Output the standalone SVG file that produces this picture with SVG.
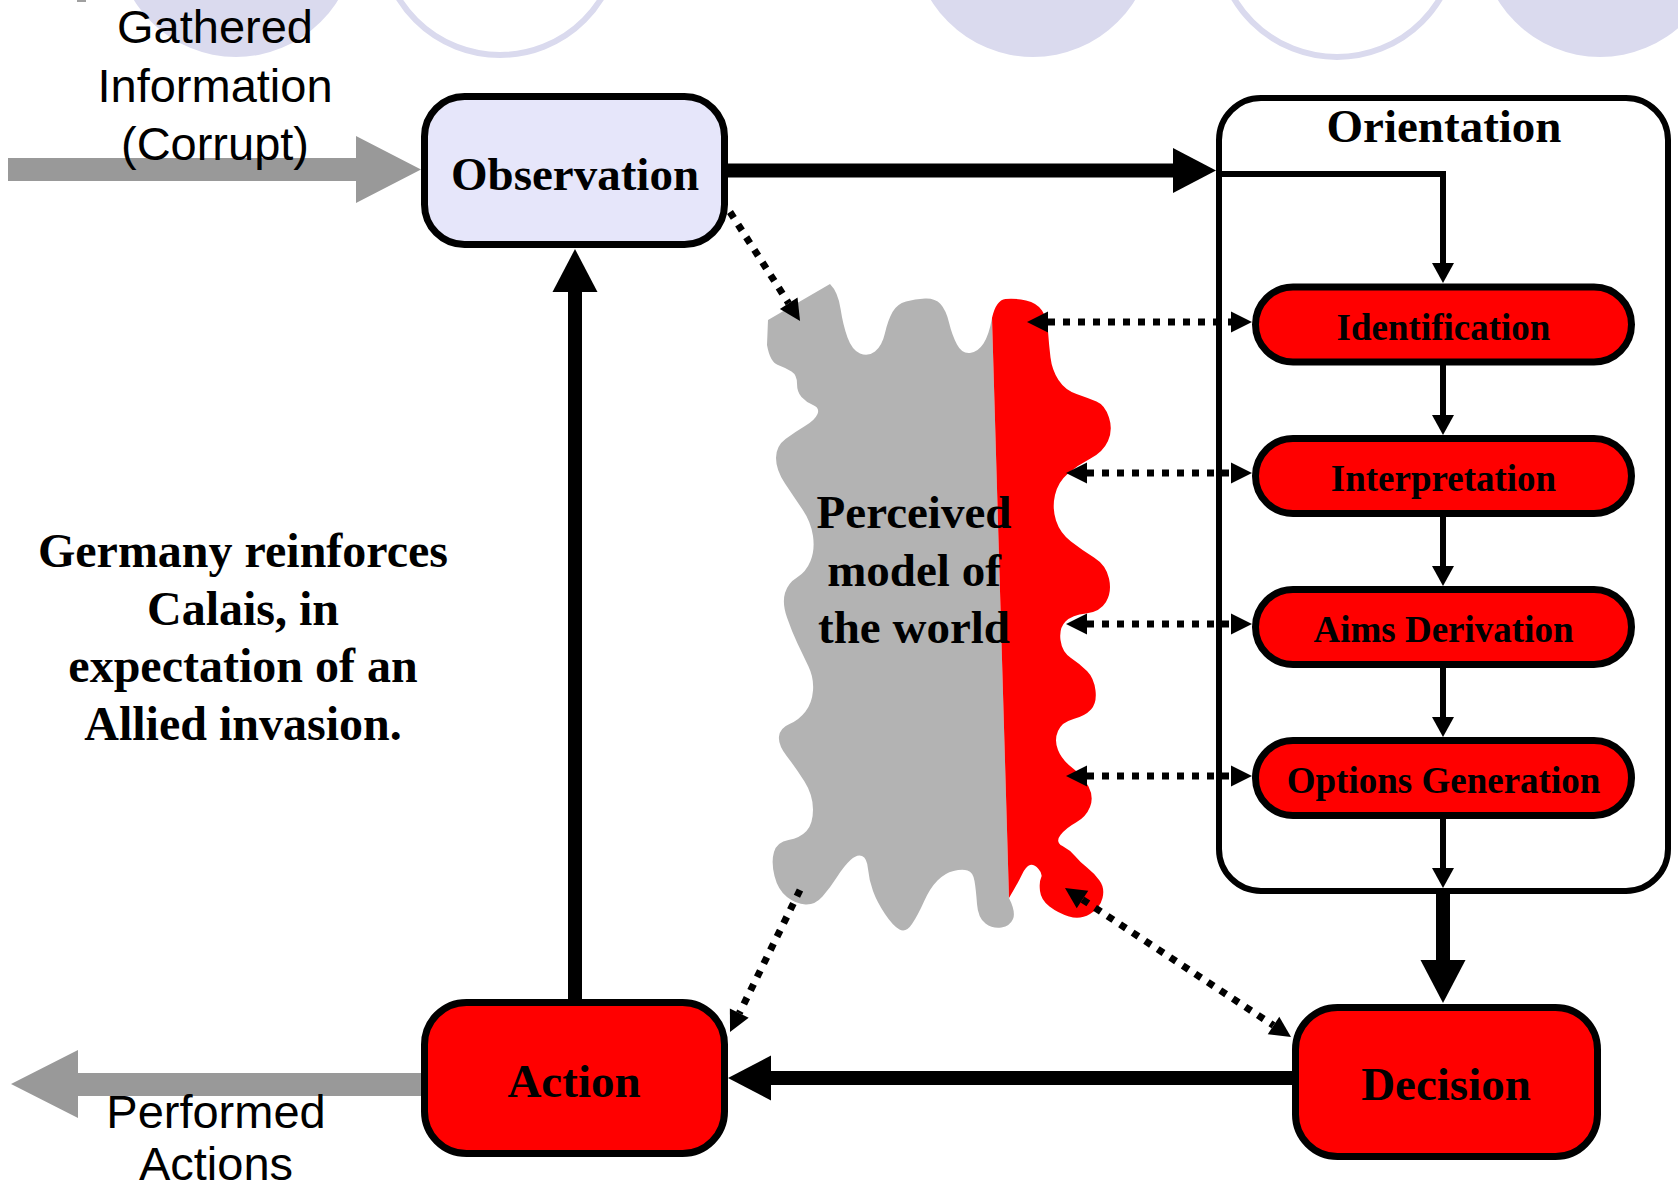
<svg xmlns="http://www.w3.org/2000/svg" width="1678" height="1192" viewBox="0 0 1678 1192">
  <defs>
    <style>
      .bg-disc { fill: #DADAEE; }
      .bg-ring { fill: none; stroke: #DADAEE; stroke-width: 6; }
      .box { stroke: #000; stroke-width: 7; }
      .obs { fill: #E6E6FA; }
      .red { fill: #FF0000; }
      .frame { fill: none; stroke: #000; stroke-width: 6; }
      .serif-b { font-family: "Liberation Serif", "Times New Roman", serif; font-weight: bold; fill: #000; text-anchor: middle; }
      .big { font-size: 47px; }
      .note { font-size: 48px; }
      .pill-label { font-size: 37px; }
      .sans { font-family: "Liberation Sans", Arial, sans-serif; font-size: 47px; fill: #000; text-anchor: middle; }
      .thick { stroke: #000; stroke-width: 14; fill: none; }
      .thin { stroke: #000; stroke-width: 6; fill: none; }
      .dotted { stroke: #000; stroke-width: 7; stroke-dasharray: 7 8; fill: none; }
      .io { fill: #999999; }
      .grey-part { fill: #B3B3B3; }
    </style>
    <marker id="headBig" markerUnits="userSpaceOnUse" markerWidth="44" markerHeight="46" refX="0" refY="22.5" orient="auto" overflow="visible">
      <path d="M0,0 L43,22.5 L0,45 z" fill="#000"/>
    </marker>
    <marker id="headSmall" markerUnits="userSpaceOnUse" markerWidth="21" markerHeight="23" refX="0" refY="11" orient="auto" overflow="visible">
      <path d="M0,0 L20,11 L0,22 z" fill="#000"/>
    </marker>
    <marker id="headDot" markerUnits="userSpaceOnUse" markerWidth="22" markerHeight="22" refX="0" refY="10.5" orient="auto-start-reverse" overflow="visible">
      <path d="M0,0 L21,10.5 L0,21 z" fill="#000"/>
    </marker>
  </defs>

  <rect width="1678" height="1192" fill="#FFFFFF"/>

  <!-- decorative discs and rings along the top edge -->
  <g id="backdrop">
    <circle class="bg-disc" cx="236" cy="-63" r="120"/>
    <circle class="bg-ring" cx="500" cy="-64" r="119"/>
    <circle class="bg-disc" cx="1033" cy="-63" r="120"/>
    <circle class="bg-ring" cx="1337" cy="-63" r="120"/>
    <circle class="bg-disc" cx="1600" cy="-63" r="120"/>
    <rect x="77" y="0" width="9" height="2" fill="#A0A0A0"/>
  </g>

  <!-- perceived model of the world: grey part with a red (corrupted) right side -->
  <g id="node-world-model">
    <path class="grey-part" d="M992,318 L1009,898 Q1016,912 1013,919 Q1010,926 1001.5,927.5 Q993,929 985.5,923.5 Q978,918 977,904 Q976,890 974.5,881 Q973,872 967.5,870.5 Q962,869 953.5,871 Q945,873 937.5,880.5 Q930,888 924,901.5 Q918,915 912,924 Q906,933 899.5,929.5 Q893,926 885,914 Q877,902 873,891 Q869,880 868,869 Q867,858 862,856 Q857,854 850.5,860 Q844,866 837,877 Q830,888 822.5,896.5 Q815,905 805.5,904.5 Q796,904 787,897 Q778,890 774.5,876 Q771,862 774,852 Q777,842 788.5,840 Q800,838 806.5,831 Q813,824 813,809.5 Q813,795 804.5,781.5 Q796,768 787,756.5 Q778,745 779,736.5 Q780,728 789.5,724 Q799,720 805.5,711.5 Q812,703 813,690.5 Q814,678 808.5,666.5 Q803,655 797.5,643.5 Q792,632 787,617.5 Q782,603 785,593 Q788,583 797,577.5 Q806,572 810.5,561 Q815,550 813,536 Q811,522 802.5,509.5 Q794,497 785,483.5 Q776,470 776,458 Q776,446 785.5,439 Q795,432 805,426 Q815,420 817.5,414 Q820,408 813,405 Q806,402 801.5,397 Q797,392 797,383.5 Q797,375 791.5,371.5 Q786,368 778,365 Q770,362 767,345 L768,320 L830,284 Q838,292 840.5,308.5 Q843,325 847.5,337.5 Q852,350 860,353.5 Q868,357 875,351.5 Q882,346 885,333 Q888,320 892.5,312 Q897,304 906,301.5 Q915,299 925,298.5 Q935,298 940.5,304 Q946,310 949,322.5 Q952,335 957,344.5 Q962,354 970,353 Q978,352 983.5,343.5 Q989,335 992,318 Z"/>
    <path class="red" d="M992,318 Q996,300 1005.5,299 Q1015,298 1026,300.5 Q1037,303 1042,310.5 Q1047,318 1048,331.5 Q1049,345 1050.5,357.5 Q1052,370 1058.5,380 Q1065,390 1076.5,394 Q1088,398 1096.5,401.5 Q1105,405 1109,417.5 Q1113,430 1108,441 Q1103,452 1090.5,458.5 Q1078,465 1068,473.5 Q1058,482 1055,495 Q1052,508 1056,520.5 Q1060,533 1071,541.5 Q1082,550 1094,557.5 Q1106,565 1109,578.5 Q1112,592 1106,602 Q1100,612 1086,613.5 Q1072,615 1065.5,621.5 Q1059,628 1060.5,640 Q1062,652 1071,658 Q1080,664 1087,671 Q1094,678 1095.5,690.5 Q1097,703 1091,709.5 Q1085,716 1073.5,719 Q1062,722 1058,731 Q1054,740 1058,750 Q1062,760 1072.5,768 Q1083,776 1088.5,786.5 Q1094,797 1090,807 Q1086,817 1076,822.5 Q1066,828 1060.5,835 Q1055,842 1062.5,846 Q1070,850 1075,856 Q1080,862 1087,867.5 Q1094,873 1099.5,880.5 Q1105,888 1102.5,898 Q1100,908 1090,914 Q1080,920 1069,916.5 Q1058,913 1049.5,906.5 Q1041,900 1040,891 Q1039,882 1041,878 Q1043,874 1038.5,869 Q1034,864 1030,865 Q1026,866 1022,874.5 Q1018,883 1009,898 Z"/>
    <text class="serif-b big" x="914" y="528">Perceived</text>
    <text class="serif-b big" x="914" y="586">model of</text>
    <text class="serif-b big" x="914" y="643">the world</text>
  </g>

  <!-- information flowing in and out -->
  <g id="io-arrows">
    <polygon class="io" points="8,158 356,158 356,136 421,169.5 356,203 356,181 8,181"/>
    <polygon class="io" points="421,1073 78,1073 78,1050 11,1084 78,1118 78,1096 421,1096"/>
  </g>

  <g id="connectors">
    <!-- main loop -->
    <line class="thick" x1="728" y1="170.5" x2="1173" y2="170.5" marker-end="url(#headBig)"/>
    <line class="thick" x1="1443" y1="894" x2="1443" y2="960" marker-end="url(#headBig)"/>
    <line class="thick" x1="1292" y1="1078" x2="771" y2="1078" marker-end="url(#headBig)"/>
    <line class="thick" x1="575" y1="1000" x2="575" y2="292" marker-end="url(#headBig)"/>
    <!-- orientation chain -->
    <path class="thin" d="M1222,174 H1443 V263" marker-end="url(#headSmall)"/>
    <line class="thin" x1="1443" y1="365" x2="1443" y2="415" marker-end="url(#headSmall)"/>
    <line class="thin" x1="1443" y1="517" x2="1443" y2="566" marker-end="url(#headSmall)"/>
    <line class="thin" x1="1443" y1="668" x2="1443" y2="717" marker-end="url(#headSmall)"/>
    <line class="thin" x1="1443" y1="819" x2="1443" y2="868" marker-end="url(#headSmall)"/>
    <!-- links with the world model -->
    <line class="dotted" x1="730" y1="212" x2="788.7" y2="303.3" marker-end="url(#headDot)"/>
    <line class="dotted" x1="1048" y1="322" x2="1231" y2="322" marker-start="url(#headDot)" marker-end="url(#headDot)"/>
    <line class="dotted" x1="1087" y1="473" x2="1231" y2="473" marker-start="url(#headDot)" marker-end="url(#headDot)"/>
    <line class="dotted" x1="1087" y1="624" x2="1231" y2="624" marker-start="url(#headDot)" marker-end="url(#headDot)"/>
    <line class="dotted" x1="1087" y1="776" x2="1231" y2="776" marker-start="url(#headDot)" marker-end="url(#headDot)"/>
    <line class="dotted" x1="1082.5" y1="899.6" x2="1273.5" y2="1025.4" marker-start="url(#headDot)" marker-end="url(#headDot)"/>
    <line class="dotted" x1="800" y1="890" x2="739.3" y2="1013.2" marker-end="url(#headDot)"/>
  </g>

  <g id="node-observation">
    <rect class="box obs" x="424.5" y="96.5" width="300" height="148" rx="40"/>
    <text class="serif-b big" x="575" y="190">Observation</text>
  </g>

  <g id="node-orientation">
    <rect class="frame" x="1219" y="98" width="449" height="793" rx="42"/>
    <text class="serif-b big" x="1444" y="142">Orientation</text>
  </g>

  <g id="node-identification">
    <rect class="box red" x="1255.5" y="287" width="376" height="75" rx="37.5"/>
    <text class="serif-b pill-label" x="1443.5" y="339.5">Identification</text>
  </g>
  <g id="node-interpretation">
    <rect class="box red" x="1255.5" y="438.5" width="376" height="75" rx="37.5"/>
    <text class="serif-b pill-label" x="1443.5" y="491">Interpretation</text>
  </g>
  <g id="node-aims-derivation">
    <rect class="box red" x="1255.5" y="589.5" width="376" height="75" rx="37.5"/>
    <text class="serif-b pill-label" x="1443.5" y="642">Aims Derivation</text>
  </g>
  <g id="node-options-generation">
    <rect class="box red" x="1255.5" y="740.5" width="376" height="75" rx="37.5"/>
    <text class="serif-b pill-label" x="1443.5" y="793">Options Generation</text>
  </g>

  <g id="node-decision">
    <rect class="box red" x="1295.5" y="1007.5" width="302" height="149" rx="42"/>
    <text class="serif-b big" x="1446" y="1100">Decision</text>
  </g>

  <g id="node-action">
    <rect class="box red" x="424.5" y="1002.5" width="300" height="151" rx="42"/>
    <text class="serif-b big" x="574" y="1097">Action</text>
  </g>

  <g id="labels">
    <text class="sans" x="215" y="43">Gathered</text>
    <text class="sans" x="215" y="102">Information</text>
    <text class="sans" x="215" y="160">(Corrupt)</text>
    <text class="sans" x="216" y="1128">Performed</text>
    <text class="sans" x="216" y="1180">Actions</text>
    <text class="serif-b note" x="243" y="567">Germany reinforces</text>
    <text class="serif-b note" x="243" y="625">Calais, in</text>
    <text class="serif-b note" x="243" y="682">expectation of an</text>
    <text class="serif-b note" x="243" y="740">Allied invasion.</text>
  </g>
</svg>
